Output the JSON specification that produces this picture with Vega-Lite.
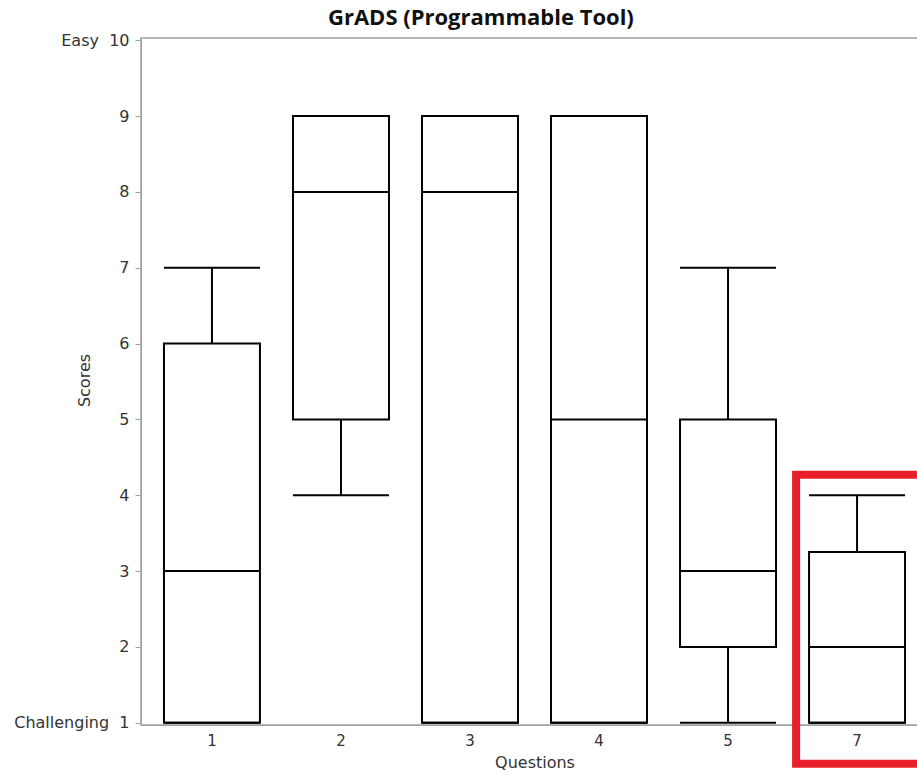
{
  "$schema": "https://vega.github.io/schema/vega-lite/v6.json",
  "autosize": "none",
  "padding": {"left": 141, "top": 38, "right": 0, "bottom": 50},
  "width": 787,
  "height": 687,
  "background": "white",
  "config": {
    "font": "DejaVu Sans",
    "view": {"stroke": "#a0a0a0", "strokeWidth": 1.5},
    "axis": {"domainColor": "#a0a0a0", "tickColor": "#a0a0a0", "labelColor": "#333333", "titleColor": "#333333", "grid": false, "labelFont": "DejaVu Sans", "titleFont": "DejaVu Sans", "titleFontWeight": "normal"}
  },
  "title": {"text": "GrADS (Programmable Tool)", "anchor": "start", "frame": "group", "dx": 187, "offset": 2, "fontSize": 22, "fontWeight": "bold", "font": "Open Sans", "color": "#111111"},
  "datasets": {
    "boxes": [
      {"q": "1", "min": 1, "q1": 1, "median": 3, "q3": 6, "max": 7},
      {"q": "2", "min": 4, "q1": 5, "median": 8, "q3": 9, "max": 9},
      {"q": "3", "min": 1, "q1": 1, "median": 8, "q3": 9, "max": 9},
      {"q": "4", "min": 1, "q1": 1, "median": 5, "q3": 9, "max": 9},
      {"q": "5", "min": 1, "q1": 2, "median": 3, "q3": 5, "max": 7},
      {"q": "7", "min": 1, "q1": 1, "median": 2, "q3": 3.25, "max": 4}
    ],
    "highlight": [
      {"q": "7", "top": 4.27, "bottom": 0.46}
    ]
  },
  "data": {"name": "boxes"},
  "encoding": {
    "x": {"field": "q", "type": "nominal", "title": "Questions",
      "scale": {"paddingInner": 0.256, "paddingOuter": 0.178},
      "axis": {"labelAngle": 0, "ticks": false, "labelFontSize": 15, "titleFontSize": 16, "labelPadding": 8, "titlePadding": 6}}
  },
  "layer": [
    {
      "mark": {"type": "rule", "color": "black", "strokeWidth": 2},
      "encoding": {
        "y": {"field": "min", "type": "quantitative", "title": "Scores",
          "scale": {"domain": [0.97, 10.03], "nice": false, "zero": false},
          "axis": {"values": [1, 2, 3, 4, 5, 6, 7, 8, 9, 10], "format": "d", "tickSize": 6, "labelFontSize": 16, "titleFontSize": 16, "labelPadding": 6,
            "labelExpr": "datum.value == 10 ? 'Easy\u00a0\u00a010' : datum.value == 1 ? 'Challenging\u00a0\u00a01' : datum.label",
            "titleX": -49, "titleY": 342, "titleAnchor": "middle", "titleAlign": "center"}},
        "y2": {"field": "max"}
      }
    },
    {
      "mark": {"type": "bar", "fill": "white", "stroke": "black", "strokeWidth": 2},
      "encoding": {
        "y": {"field": "q1", "type": "quantitative"},
        "y2": {"field": "q3"}
      }
    },
    {
      "mark": {"type": "tick", "color": "black", "opacity": 1, "size": 96, "thickness": 2},
      "encoding": {"y": {"field": "median", "type": "quantitative"}}
    },
    {
      "mark": {"type": "tick", "color": "black", "opacity": 1, "size": 96, "thickness": 2},
      "encoding": {"y": {"field": "max", "type": "quantitative"}}
    },
    {
      "mark": {"type": "tick", "color": "black", "opacity": 1, "size": 96, "thickness": 2},
      "encoding": {"y": {"field": "min", "type": "quantitative"}}
    },
    {
      "data": {"name": "highlight"},
      "mark": {"type": "rect", "fill": null, "fillOpacity": 0, "stroke": "#e8202a", "strokeWidth": 8},
      "encoding": {
        "x": {"field": "q", "type": "nominal", "bandPosition": -0.135},
        "x2": {"field": "q", "bandPosition": 1.3},
        "y": {"field": "top", "type": "quantitative"},
        "y2": {"field": "bottom"}
      }
    }
  ]
}
